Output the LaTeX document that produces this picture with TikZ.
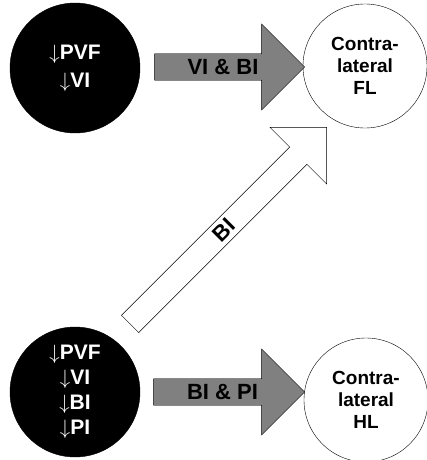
\documentclass[tikz,border=0pt]{standalone}
\usepackage{fontspec}
\setmainfont{Liberation Sans}
\usetikzlibrary{shapes.arrows}
\definecolor{shaftgray}{RGB}{128,128,128}
\def\dn{$\downarrow$}

\begin{document}
\begin{tikzpicture}[x=1pt,y=1pt,thin,
  black node/.style={circle,fill=black,draw,text=white,align=center,minimum size=130pt,inner sep=0pt,font=\fontsize{21}{25}\selectfont\bfseries},
  white node/.style={circle,fill=white,draw,align=center,minimum size=124pt,inner sep=0pt,font=\fontsize{19}{22}\selectfont\bfseries},
  block arrow/.style={single arrow,draw,single arrow head extend=20pt,inner sep=1pt,font=\fontsize{22}{24}\selectfont\bfseries}]
  \useasboundingbox (0,0) rectangle (427,-460);
  \begin{scope}
  	\node[black node] (1) at (75,-68) {\dn PVF\\[3pt]\dn VI};
  	\node[black node] (2) at (75,-392) {\dn PVF\\\dn VI\\\dn BI\\\dn PI};
  	\node[white node] (3) at (365,-66) {Contra-\\lateral\\FL};
  	\node[white node] (4) at (366,-400) {Contra-\\lateral\\HL};

    \node[block arrow,fill=shaftgray,minimum height=150pt,minimum width=86pt] (5) at (223,-67) {VI \& BI};
    \node[block arrow,fill=shaftgray,minimum height=151pt,minimum width=86pt] (6) at (222.5,-392) {BI \& PI};
    \node[block arrow,fill=white,rotate=45,minimum height=278pt,minimum width=80pt] (7) at (224,-230) {BI};
  \end{scope}
\end{tikzpicture}
\end{document}
